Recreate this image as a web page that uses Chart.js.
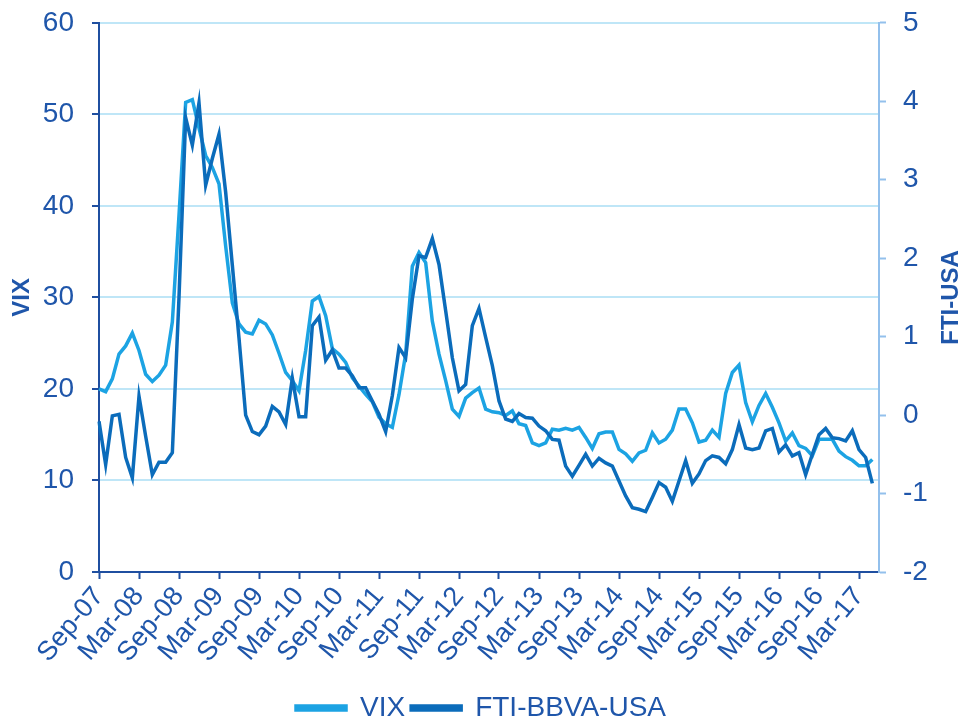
<!DOCTYPE html>
<html>
<head>
<meta charset="utf-8">
<script src="https://cdn.jsdelivr.net/npm/chart.js@4/dist/chart.umd.min.js"></script>
<style>
  html, body { margin: 0; padding: 0; background: #fff; overflow: hidden; }
  #wrap { width: 962px; height: 744px; margin-top: -12px; }
</style>
</head>
<body>
<div id="wrap"><canvas id="chart"></canvas></div>
<script>
// months Sep-07 .. Jun-17
const monthNames = ['Jan','Feb','Mar','Apr','May','Jun','Jul','Aug','Sep','Oct','Nov','Dec'];
const categories = [];
for (let k = 0; k < 118; k++) {
  const m = (8 + k) % 12;
  const y = 7 + Math.floor((8 + k) / 12);
  categories.push(monthNames[m] + '-' + String(y).padStart(2, '0'));
}

const vixValues = [
  20.0, 19.7, 21.1, 23.8, 24.7, 26.1, 24.2, 21.6, 20.8, 21.5, 22.6, 27.3,
  39.0, 51.3, 51.6, 48.5, 45.5, 44.2, 42.4, 35.6, 29.4, 27.1, 26.2, 26.0,
  27.5, 27.1, 25.9, 23.9, 21.8, 20.9, 19.8, 24.2, 29.6, 30.1, 28.0, 24.4,
  23.8, 22.9, 21.2, 20.3, 19.4, 18.6, 16.9, 16.2, 15.8, 19.4, 23.8, 33.4,
  34.9, 33.8, 27.4, 23.8, 20.9, 17.8, 17.0, 19.0, 19.6, 20.1, 17.8, 17.5,
  17.4, 17.1, 17.6, 16.2, 16.0, 14.1, 13.8, 14.1, 15.6, 15.5, 15.7, 15.5,
  15.8, 14.7, 13.5, 15.1, 15.3, 15.3, 13.4, 12.9, 12.1, 13.0, 13.3, 15.2,
  14.1, 14.5, 15.5, 17.8, 17.8, 16.3, 14.2, 14.4, 15.5, 14.7, 19.5, 21.8,
  22.6, 18.5, 16.4, 18.2, 19.5, 18.0, 16.3, 14.3, 15.2, 13.8, 13.5, 12.7,
  14.5, 14.5, 14.5, 13.2, 12.6, 12.2, 11.6, 11.6, 12.3
];

const ftiValues = [
  -0.08, -0.63, -0.01, 0.01, -0.54, -0.80, 0.24, -0.27, -0.76, -0.60, -0.60, -0.48,
  1.50, 3.79, 3.44, 3.98, 2.93, 3.27, 3.58, 2.84, 1.91, 0.98, 0.00, -0.21,
  -0.25, -0.14, 0.11, 0.04, -0.12, 0.47, -0.02, -0.02, 1.14, 1.25, 0.70, 0.83,
  0.60, 0.60, 0.50, 0.35, 0.35, 0.18, 0.01, -0.21, 0.25, 0.86, 0.73, 1.48,
  2.03, 2.01, 2.25, 1.92, 1.33, 0.73, 0.31, 0.39, 1.14, 1.36, 0.99, 0.63,
  0.18, -0.05, -0.08, 0.02, -0.03, -0.04, -0.14, -0.20, -0.31, -0.32, -0.65, -0.78,
  -0.64, -0.50, -0.65, -0.55, -0.61, -0.65, -0.84, -1.03, -1.18, -1.20, -1.23, -1.05,
  -0.86, -0.92, -1.10, -0.84, -0.58, -0.87, -0.75, -0.58, -0.52, -0.54, -0.62, -0.44,
  -0.12, -0.42, -0.44, -0.42, -0.20, -0.17, -0.47, -0.38, -0.52, -0.48, -0.76, -0.50,
  -0.25, -0.17, -0.29, -0.30, -0.33, -0.20, -0.44, -0.54, -0.87
];

const vixTicks = [0, 10, 20, 30, 40, 50, 60];
const ftiTicks = [-2, -1, 0, 1, 2, 3, 4, 5];

const FONT = "'Liberation Sans', Arial, sans-serif";
const textBlue = '#1f56aa';
const darkAxis = '#1f4fa0';
const lightAxis = '#93c0ec';
const vixColor = '#1ca3e3';
const ftiColor = '#0b6cbb';

// right title reads bottom-to-top like the left one
const rightTitle = {
  id: 'rightTitle',
  afterDraw(chart) {
    const ctx = chart.ctx;
    const a = chart.chartArea;
    ctx.save();
    ctx.font = 'bold 24px ' + FONT;
    ctx.fillStyle = textBlue;
    ctx.textAlign = 'center';
    ctx.textBaseline = 'middle';
    ctx.translate(951, (a.top + a.bottom) / 2);
    ctx.rotate(-Math.PI / 2);
    ctx.fillText('FTI-USA', 0, 0);
    ctx.restore();
  }
};

new Chart(document.getElementById('chart'), {
  type: 'line',
  data: {
    labels: categories,
    datasets: [
      {
        label: 'VIX',
        data: vixValues,
        yAxisID: 'y',
        borderColor: vixColor,
        backgroundColor: vixColor,
        borderWidth: 3.5,
        pointRadius: 0,
        tension: 0,
        order: 1
      },
      {
        label: 'FTI-BBVA-USA',
        data: ftiValues,
        yAxisID: 'y1',
        borderColor: ftiColor,
        backgroundColor: ftiColor,
        borderWidth: 3.5,
        pointRadius: 0,
        tension: 0,
        order: 0
      }
    ]
  },
  options: {
    responsive: true,
    maintainAspectRatio: false,
    animation: false,
    layout: { padding: { top: 11, bottom: 0, left: 0, right: 0 } },
    plugins: {
      tooltip: { enabled: false },
      legend: {
        position: 'bottom',
        labels: {
          font: { family: FONT, size: 28 },
          color: textBlue,
          boxWidth: 50,
          boxHeight: 4,
          padding: 6,
          sort: (a, b) => a.datasetIndex - b.datasetIndex
        }
      }
    },
    scales: {
      x: {
        offset: false,
        grid: { drawOnChartArea: false, tickLength: 7, tickColor: darkAxis, tickWidth: 2 },
        border: { color: darkAxis, width: 2 },
        ticks: {
          autoSkip: false,
          maxRotation: 50,
          minRotation: 50,
          padding: 2,
          color: textBlue,
          font: { family: FONT, size: 27 },
          callback: function (value, index) {
            return index % 6 === 0 ? categories[index] : null;
          }
        },
        afterFit: (scale) => { scale.height = 116; }
      },
      y: {
        position: 'left',
        min: vixTicks[0],
        max: vixTicks[vixTicks.length - 1],
        ticks: {
          stepSize: 10,
          color: textBlue,
          padding: 18,
          font: { family: FONT, size: 28 }
        },
        grid: { color: '#bfe6f7', lineWidth: 2, tickLength: 7, tickColor: darkAxis, tickWidth: 2 },
        border: { color: darkAxis, width: 2 },
        title: {
          display: true,
          text: 'VIX',
          color: textBlue,
          font: { family: FONT, size: 24, weight: 'bold' },
          padding: { top: 8, bottom: 0 }
        },
        afterFit: (scale) => { scale.width = 99; }
      },
      y1: {
        position: 'right',
        min: ftiTicks[0],
        max: ftiTicks[ftiTicks.length - 1],
        ticks: {
          stepSize: 1,
          color: textBlue,
          padding: 17,
          font: { family: FONT, size: 28 }
        },
        grid: { drawOnChartArea: false, tickLength: 7, tickColor: lightAxis, tickWidth: 2 },
        border: { color: lightAxis, width: 2 },
        afterFit: (scale) => { scale.width = 83; }
      }
    }
  },
  plugins: [rightTitle]
});
</script>
</body>
</html>
